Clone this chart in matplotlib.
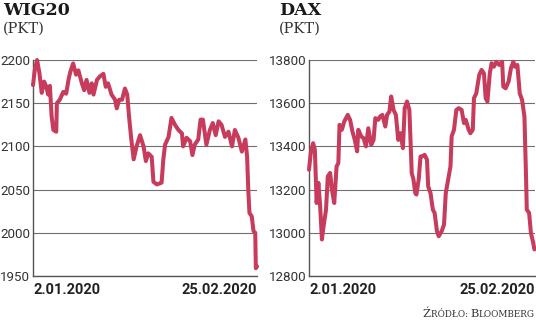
import matplotlib.pyplot as plt

# WIG20 intraday path, x = trading days since 2.01.2020
wig_t = [0.0, 0.3, 0.7, 1.1, 1.5, 1.9, 2.3, 2.6, 2.9, 3.2, 3.5, 4.0, 4.1, 4.6,
         5.2, 5.7, 6.1, 6.4, 6.9, 7.4, 7.8, 8.4, 8.8, 9.2, 9.7, 10.1, 10.4,
         11.0, 11.5, 12.1, 12.5, 12.9, 13.5, 14.1, 14.4, 14.8, 15.3, 15.8,
         16.2, 16.5, 16.9, 17.3, 17.8, 18.4, 19.0, 19.4, 19.8, 20.4, 20.7,
         21.3, 22.1, 22.4, 22.7, 23.3, 23.8, 24.4, 25.0, 25.6, 25.8, 26.4,
         27.0, 27.4, 27.8, 28.4, 28.8, 29.2, 29.8, 30.4, 30.9, 31.4, 31.9,
         32.4, 33.0, 33.6, 34.2, 34.7, 35.3, 35.9, 36.5, 36.8, 37.0, 37.2,
         37.6, 37.9, 38.2, 38.3, 38.5]
wig_v = [2171, 2188, 2200, 2185, 2162, 2175, 2169, 2160, 2170, 2135, 2119,
         2117, 2150, 2154, 2163, 2161, 2177, 2186, 2196, 2183, 2188, 2173,
         2165, 2177, 2162, 2173, 2160, 2177, 2181, 2184, 2169, 2173, 2160,
         2154, 2144, 2154, 2154, 2167, 2160, 2135, 2108, 2085, 2100, 2113,
         2100, 2083, 2092, 2088, 2059, 2056, 2058, 2085, 2102, 2111, 2133,
         2125, 2119, 2115, 2100, 2110, 2106, 2090, 2102, 2108, 2131, 2131,
         2102, 2119, 2127, 2113, 2129, 2125, 2111, 2117, 2100, 2119, 2110,
         2094, 2108, 2088, 2050, 2023, 2019, 2002, 2000, 1959, 1961]

# DAX intraday path
dax_t = [0.0, 0.3, 0.7, 1.0, 1.3, 1.6, 1.9, 2.2, 2.4, 2.9, 3.2, 3.6, 3.9, 4.3,
         4.7, 5.0, 5.2, 5.6, 6.0, 6.6, 7.0, 7.4, 7.8, 8.2, 8.4, 8.9, 9.3, 9.7,
         10.1, 10.6, 11.0, 11.3, 11.8, 12.1, 12.5, 13.0, 13.3, 13.7, 14.0,
         14.4, 14.8, 15.2, 15.6, 16.0, 16.3, 16.7, 17.1, 17.5, 17.8, 18.1,
         18.3, 18.7, 19.0, 19.2, 19.7, 20.1, 20.3, 20.7, 21.1, 21.4, 21.8,
         22.1, 22.6, 23.0, 23.3, 23.7, 24.1, 24.3, 24.7, 25.1, 25.5, 26.0,
         26.4, 26.7, 27.2, 27.5, 27.9, 28.1, 28.5, 29.0, 29.4, 29.8, 30.1,
         30.4, 30.8, 31.1, 31.5, 31.9, 32.4, 32.9, 33.1, 33.5, 34.0, 34.4,
         34.8, 35.1, 35.5, 35.9, 36.3, 36.7, 37.0, 37.1, 37.5, 37.8, 38.2, 38.4]
dax_v = [13292, 13369, 13415, 13384, 13138, 13231, 13123, 12969, 13015, 13107,
         13261, 13277, 13200, 13138, 13307, 13323, 13500, 13477, 13515, 13546,
         13523, 13469, 13430, 13377, 13477, 13446, 13438, 13400, 13484, 13407,
         13430, 13531, 13523, 13538, 13546, 13492, 13546, 13561, 13631, 13569,
         13546, 13430, 13461, 13392, 13577, 13608, 13569, 13277, 13246, 13184,
         13177, 13250, 13353, 13353, 13361, 13338, 13215, 13184, 13107, 13092,
         13007, 12984, 13007, 13038, 13184, 13246, 13307, 13446, 13477, 13569,
         13577, 13569, 13508, 13523, 13477, 13461, 13477, 13623, 13646, 13731,
         13754, 13738, 13623, 13608, 13738, 13785, 13769, 13792, 13777, 13792,
         13677, 13669, 13700, 13762, 13792, 13769, 13777, 13646, 13615, 13538,
         13231, 13107, 13092, 13000, 12953, 12923]

wig_ticks = [1950, 2000, 2050, 2100, 2150, 2200]
dax_ticks = [12800, 13000, 13200, 13400, 13600, 13800]
date_labels = ["2.01.2020", "25.02.2020"]

LINE = "#c73b5c"
W, H = 536, 321

fig = plt.figure(figsize=(W / 100, H / 100), dpi=100)


def panel(x0, x1, t, v, ticks, name):
    ax = fig.add_axes([x0 / W, 1 - 276 / H, (x1 - x0) / W, 216 / H])
    ax.plot(t, v, color=LINE, lw=2.9, solid_joinstyle="round",
            solid_capstyle="round", clip_on=False, zorder=3)
    ax.set_xlim(0, 38.5)
    ax.set_ylim(ticks[0], ticks[-1])
    ax.set_yticks(ticks)
    ax.set_yticklabels([str(y) for y in ticks], fontfamily="Roboto",
                       fontsize=9.6, color="#333333")
    ax.set_xticks([0, 38.5])
    ax.set_xticklabels(date_labels, fontfamily="Roboto", fontweight="bold",
                       fontsize=10.5, color="#222222")
    lab = ax.get_xticklabels()
    lab[0].set_ha("left")
    lab[1].set_ha("right")
    ax.tick_params(axis="both", length=0)
    ax.tick_params(axis="y", pad=2)
    ax.tick_params(axis="x", pad=5)
    ax.grid(axis="y", color="#6f6f6f", lw=0.8)
    ax.set_axisbelow(True)
    for s in ["top", "right"]:
        ax.spines[s].set_visible(False)
    for s in ["left", "bottom"]:
        ax.spines[s].set_color("#555555")
        ax.spines[s].set_linewidth(1.0)
    tx = x0 - 30
    fig.text(tx / W, 1 - 2 / H, name, fontfamily="DejaVu Serif",
             fontweight="bold", fontsize=12.5, color="#1a1a1a", va="top")
    fig.text(tx / W, 1 - 22 / H, "(PKT)", fontfamily="DejaVu Serif",
             fontsize=10.5, color="#333333", va="top")
    return ax


panel(33, 257, wig_t, wig_v, wig_ticks, "WIG20")
panel(309, 535, dax_t, dax_v, dax_ticks, "DAX")

# source line, small caps built from pieces, chained right to left
src = [("LOOMBERG", 6.4), ("B", 8.2), ("RÓDŁO: ", 6.4), ("Ź", 8.2)]
prev = fig.text(535 / W, 1 - 319 / H, src[0][0], fontfamily="DejaVu Serif",
                fontsize=src[0][1], color="#333333", ha="right", va="bottom")
for txt, fs in src[1:]:
    prev = fig.add_artist(plt.Annotation(
        txt, xy=(0, 0), xycoords=prev, fontfamily="DejaVu Serif", fontsize=fs,
        color="#333333", ha="right", va="bottom"))

plt.savefig("out.png", dpi=100)
